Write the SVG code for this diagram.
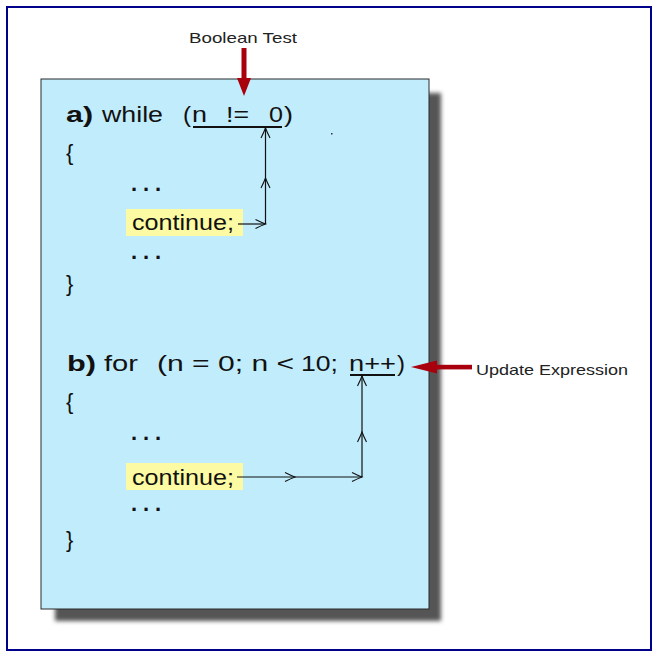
<svg xmlns="http://www.w3.org/2000/svg" width="657" height="657" viewBox="0 0 657 657">
<defs>
<filter id="blur" x="-10%" y="-10%" width="120%" height="120%"><feGaussianBlur stdDeviation="2"/></filter>
<marker id="chev" markerUnits="userSpaceOnUse" markerWidth="14" markerHeight="12" viewBox="-11 -6 12 12" refX="0" refY="0" orient="auto">
<path d="M-10,-4.5 Q-4,-1.5 0,0 Q-4,1.5 -10,4.5" fill="none" stroke="#111" stroke-width="1.1"/>
</marker>
</defs>
<style>
.code{font-family:"Liberation Sans",Arial,sans-serif;font-size:22px;fill:#111}
.b{font-weight:bold}
.lbl{font-family:"Liberation Sans",Arial,sans-serif;font-size:15px;fill:#222}
.con{fill:none;stroke:#111;stroke-width:1.2;marker-end:url(#chev)}
.ul{stroke:#111;stroke-width:2}
.hl{fill:#FCFAA2}
.red{fill:#A8000C}
</style>
<rect x="0" y="0" width="657" height="657" fill="#fff"/>
<rect x="7" y="7" width="644" height="643" fill="none" stroke="#00008A" stroke-width="2"/>
<g id="panel">
<rect x="55" y="93" width="386" height="528" fill="#555" filter="url(#blur)"/>
<rect x="41" y="79" width="388" height="530" fill="#C1ECFC" stroke="#2a2a2a" stroke-width="1"/>
<rect x="331" y="133" width="1.5" height="1.5" fill="#333"/>
</g>
<g id="label-boolean">
<text class="lbl" x="189" y="43" textLength="108" lengthAdjust="spacingAndGlyphs">Boolean Test</text>
<rect class="red" x="241.5" y="48" width="5" height="31"/>
<polygon class="red" points="237,78 251,78 244,96"/>
</g>
<g id="label-update">
<text class="lbl" x="476" y="375" textLength="152" lengthAdjust="spacingAndGlyphs">Update Expression</text>
<rect class="red" x="436" y="364.8" width="36" height="4.6"/>
<polygon class="red" points="411,367 437,360.5 437,373.5"/>
</g>
<g id="block-a">
<text class="code b" x="66" y="122" textLength="27" lengthAdjust="spacingAndGlyphs">a)</text>
<text class="code" x="102" y="122" textLength="61" lengthAdjust="spacingAndGlyphs">while</text>
<text class="code" x="183" y="122" textLength="8" lengthAdjust="spacingAndGlyphs">(</text>
<text class="code" x="192" y="122" textLength="15" lengthAdjust="spacingAndGlyphs">n</text>
<text class="code" x="226" y="122" textLength="23" lengthAdjust="spacingAndGlyphs">!=</text>
<text class="code" x="269" y="122" textLength="14" lengthAdjust="spacingAndGlyphs">0</text>
<text class="code" x="284" y="122" textLength="9" lengthAdjust="spacingAndGlyphs">)</text>
<line class="ul" x1="193" y1="127" x2="282" y2="127"/>
<text class="code" x="66" y="160" font-size="23">{</text>
<text class="code b" x="131" y="191" textLength="30" lengthAdjust="spacing">. . .</text>
<rect class="hl" x="126" y="209" width="117" height="27"/>
<text class="code" x="132" y="230" textLength="102" lengthAdjust="spacingAndGlyphs">continue;</text>
<text class="code b" x="131" y="259" textLength="30" lengthAdjust="spacing">. . .</text>
<text class="code" x="66" y="291" font-size="23">}</text>
</g>
<g id="block-b">
<text class="code b" x="67" y="371" textLength="29" lengthAdjust="spacingAndGlyphs">b)</text>
<text class="code" x="104" y="371" textLength="34" lengthAdjust="spacingAndGlyphs">for</text>
<text class="code" x="157" y="371" textLength="137" lengthAdjust="spacingAndGlyphs" xml:space="preserve">(n = 0; n &lt;</text>
<text class="code" x="301" y="371" textLength="37" lengthAdjust="spacingAndGlyphs">10;</text>
<text class="code" x="349" y="371" textLength="47" lengthAdjust="spacingAndGlyphs">n++</text>
<text class="code" x="397" y="371" textLength="8" lengthAdjust="spacingAndGlyphs">)</text>
<line class="ul" x1="350" y1="375" x2="395" y2="375"/>
<text class="code" x="66" y="409" font-size="23">{</text>
<text class="code b" x="131" y="440" textLength="30" lengthAdjust="spacing">. . .</text>
<rect class="hl" x="126" y="463" width="117" height="27"/>
<text class="code" x="132" y="485" textLength="102" lengthAdjust="spacingAndGlyphs">continue;</text>
<text class="code b" x="131" y="511" textLength="30" lengthAdjust="spacing">. . .</text>
<text class="code" x="66" y="547" font-size="23">}</text>
</g>
<g id="connectors">
<path class="con" d="M238,224 H265.5"/>
<path class="con" d="M265.5,224 V178"/>
<path class="con" d="M265.5,178 V128"/>
<path class="con" d="M237,477 H295"/>
<path class="con" d="M295,477 H362"/>
<path class="con" d="M362,477 V432"/>
<path class="con" d="M362,432 V376"/>
</g>
</svg>
